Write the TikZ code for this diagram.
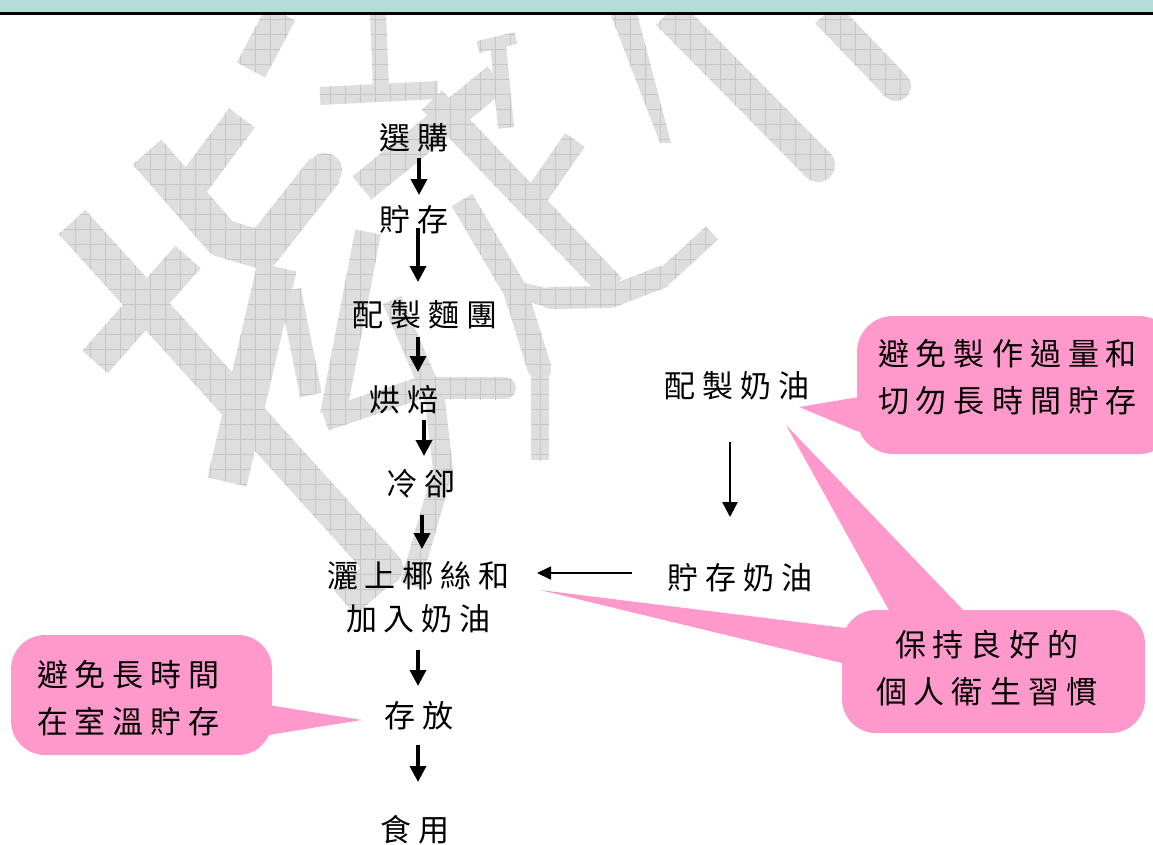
\documentclass[tikz,border=0pt]{standalone}
\usepackage{fontspec}
\newfontfamily\cjk{Noto Sans CJK TC}
\usetikzlibrary{arrows.meta,calc,patterns.meta}
\definecolor{wmgrey}{RGB}{222,222,222}
\definecolor{wmgrid}{RGB}{198,198,198}
\definecolor{calloutpink}{RGB}{255,153,204}
\definecolor{headteal}{RGB}{180,221,217}
\newlength\trgap \setlength\trgap{7pt}
\def\trloop#1{\ifx\relax#1\else#1\hskip\trgap\expandafter\trloop\fi}
\newcommand\trk[1]{\trloop#1\relax\hskip-\trgap}
\tikzset{
  wm/.style={fill=wmgrey, postaction={pattern={Hatch[angle=0,distance=15pt,line width=0.5pt]}, pattern color=wmgrid}},
  flow/.style={font=\cjk\fontsize{31pt}{43pt}\selectfont, inner sep=0pt, align=center},
  tip/.style={font=\cjk\fontsize{31pt}{47pt}\selectfont, inner sep=0pt, align=center},
  callout/.style={fill=calloutpink},
  arr/.style={-{Triangle[length=16pt,width=16pt]}, line width=3.5pt},
  arrthin/.style={-{Triangle[length=15pt,width=15pt]}, line width=2.6pt},
  arrh/.style={-{Triangle[length=14pt,width=13pt]}, line width=1.6pt}
}
\newcommand\wseg[3]{\fill[wm] ($#1!#3!90:#2$) -- ($#2!#3!-90:#1$) -- ($#2!#3!90:#1$) -- ($#1!#3!-90:#2$) -- cycle;}
\newcommand\wdot[2]{\fill[wm] #1 circle[radius=#2];}
\begin{document}
\begin{tikzpicture}[x=1pt,y=-1pt]
\useasboundingbox (0,0) rectangle (1153,844);
% ---- watermark ----
\wseg{(281,13)}{(251,70)}{16pt}
\wseg{(378,13)}{(381,90)}{8pt}
\wseg{(320,96)}{(438,90)}{9pt}
\wseg{(498,44)}{(506,128)}{8pt}
\wseg{(478,47)}{(516,38)}{6pt}
\wseg{(497,78)}{(362,188)}{15pt}
\fill[wm] (610,13) -- (637,13) -- (671,143) -- (660,143) -- cycle;
\wseg{(668,13)}{(818,165)}{17pt} \wdot{(818,165)}{17pt}
\wseg{(826,13)}{(896,86)}{15pt} \wdot{(896,86)}{15pt}
\wseg{(432,100)}{(612,288)}{14pt}
\wseg{(575,140)}{(532,202)}{12pt}
\wseg{(712,233)}{(665,276)}{9pt} \wdot{(665,276)}{9pt}
\wseg{(665,276)}{(610,297)}{11pt} \wdot{(610,297)}{11pt}
\wseg{(610,297)}{(550,298)}{11pt} \wdot{(550,298)}{11pt}
\wseg{(550,298)}{(515,290)}{9pt}
\wseg{(462,200)}{(515,290)}{12pt} \wdot{(515,290)}{12pt}
\wseg{(515,290)}{(540,370)}{12pt} \wdot{(540,370)}{11pt}
\wseg{(540,370)}{(540,460)}{9pt}
\wseg{(147,152)}{(222,238)}{19pt} \wdot{(222,238)}{19pt}
\wseg{(222,238)}{(262,250)}{19pt} \wdot{(262,250)}{19pt}
\wseg{(262,250)}{(325,170)}{19pt} \wdot{(325,170)}{17pt}
\wseg{(242,118)}{(190,188)}{16pt}
\wseg{(72,222)}{(385,568)}{18pt} \wdot{(385,568)}{18pt}
\wseg{(385,568)}{(345,603)}{16pt}
\wseg{(188,257)}{(95,362)}{17pt}
\wseg{(277,267)}{(227,482)}{20pt}
\wseg{(290,290)}{(311,395)}{11pt}
\wseg{(368,232)}{(333,415)}{13pt}
\wseg{(325,420)}{(420,388)}{11pt} \wdot{(420,388)}{11pt}
\wseg{(420,388)}{(505,388)}{11pt} \wdot{(505,388)}{11pt}
\wseg{(392,300)}{(435,400)}{10pt} \wdot{(435,400)}{10pt}
\wseg{(435,400)}{(443,470)}{10pt} \wdot{(443,470)}{10pt}
\wseg{(443,470)}{(410,585)}{10pt}
% ---- header ----
\fill[headteal] (0,0) rectangle (1153,12);
\draw[line width=3pt] (0,13) -- (1153,13);
% ---- callouts ----
\fill[callout, rounded corners=36pt] (857,316) rectangle (1175,454);
\fill[callout] (859,397) -- (799,407) -- (859,432) -- cycle;
\fill[callout, rounded corners=34pt] (842,610) rectangle (1145,733);
\fill[callout] (891,614) -- (786,425) -- (967,614) -- cycle;
\fill[callout] (846,628) -- (540,590) -- (846,664) -- cycle;
\fill[callout, rounded corners=34pt] (11,635) rectangle (272,755);
\fill[callout] (268,705) -- (362,720) -- (268,735) -- cycle;
% ---- flow nodes ----
\node[flow] (buy) at (414,138) {\trk{選購}};
\node[flow] (store) at (414,220) {\trk{貯存}};
\node[flow] (dough) at (425,315) {\trk{配製麵團}};
\node[flow] (bake) at (404,400) {\trk{烘焙}};
\node[flow] (cool) at (421,484) {\trk{冷卻}};
\node[flow] (top) at (422,597) {\trk{灑上椰絲和}\\\trk{加入奶油}};
\node[flow] (keep) at (419,716) {\trk{存放}};
\node[flow] (eat) at (415,830) {\trk{食用}};
\node[flow] (cream) at (737,386) {\trk{配製奶油}};
\node[flow] (creamst) at (740,578) {\trk{貯存奶油}};
\node[tip] (c1) at (1011,377) {\trk{避免製作過量和}\\\trk{切勿長時間貯存}};
\node[tip] (c2) at (990,668) {\trk{保持良好的}\\\trk{個人衛生習慣}};
\node[tip] (c3) at (132,698) {\trk{避免長時間}\\\trk{在室溫貯存}};
% ---- connectors ----
\draw[arr] ([shift={(5pt,-20pt)}]buy.center) -- ([shift={(5pt,25pt)}]store.center);
\draw[arr] ([shift={(4pt,-8pt)}]store.center) -- ([shift={(-7pt,33pt)}]dough.center);
\draw[arr] ([shift={(-7pt,-22pt)}]dough.center) -- ([shift={(14pt,28pt)}]bake.center);
\draw[arr] ([shift={(20pt,-20pt)}]bake.center) -- ([shift={(3pt,28pt)}]cool.center);
\draw[arr] ([shift={(1pt,-31pt)}]cool.center) -- ([shift={(0pt,48pt)}]top.center);
\draw[arr] ([shift={(-4pt,-53pt)}]top.center) -- ([shift={(-1pt,30pt)}]keep.center);
\draw[arr] ([shift={(-1pt,-29pt)}]keep.center) -- ([shift={(3pt,48pt)}]eat.center);
\draw[arrthin] ([shift={(-7pt,-56pt)}]cream.center) -- ([shift={(-10pt,61pt)}]creamst.center);
\draw[arrh] ([shift={(-108pt,5pt)}]creamst.center) -- ([shift={(115pt,24pt)}]top.center);
\end{tikzpicture}
\end{document}
